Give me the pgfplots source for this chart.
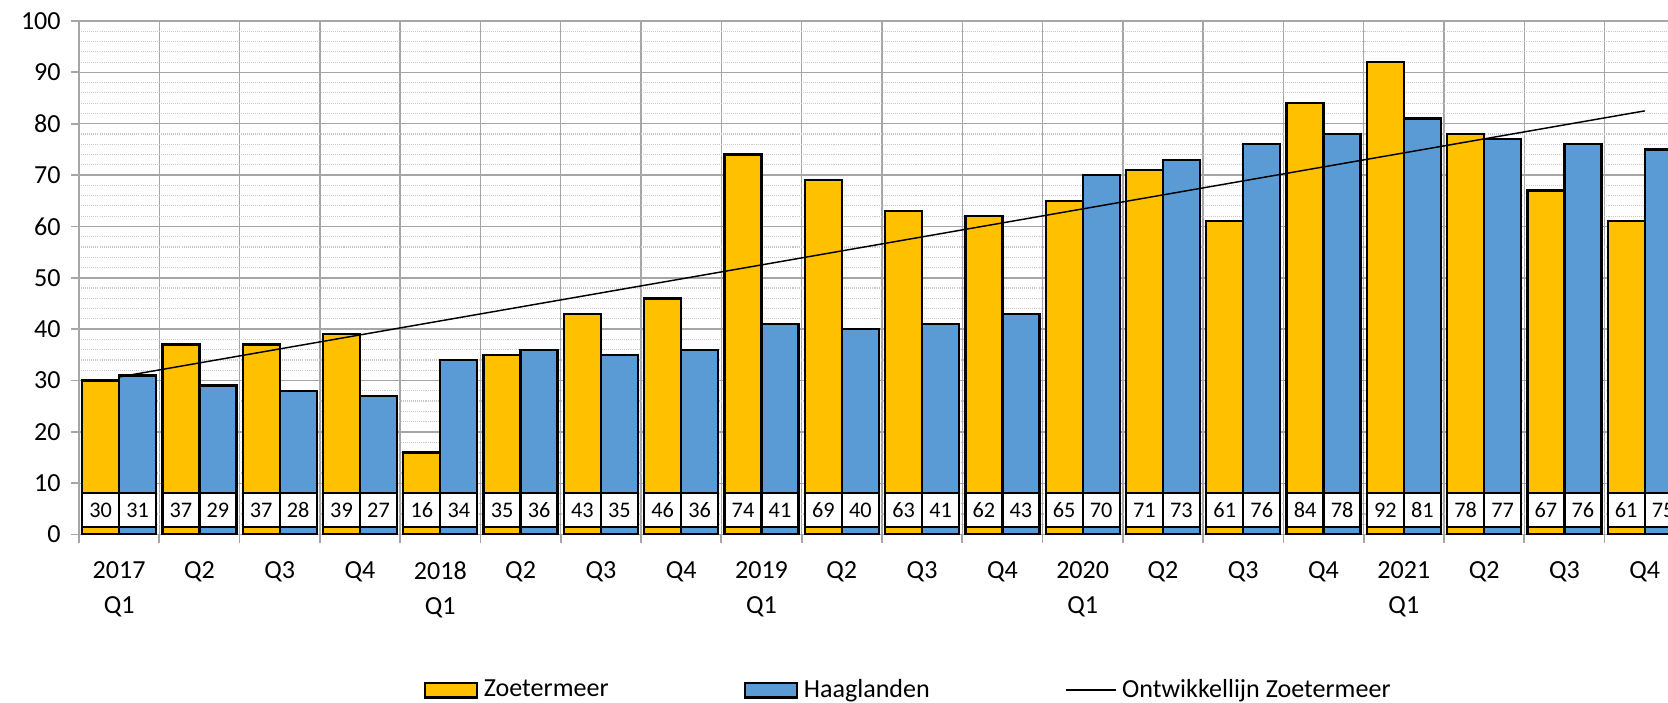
\documentclass[border=0pt]{standalone}
\usepackage{pgfplots}
\usepackage{pgfplotstable}
\pgfplotsset{compat=1.18}
\usepackage{fontspec}
\setmainfont{Carlito}
\definecolor{zgold}{HTML}{FFC000}
\definecolor{hblue}{HTML}{5B9BD5}
\definecolor{gridgray}{HTML}{A6A6A6}
\definecolor{minorgray}{HTML}{C8C8C8}

% kwartaal, Zoetermeer, Haaglanden
\pgfplotstableread{
x z h
0 30 31
1 37 29
2 37 28
3 39 27
4 16 34
5 35 36
6 43 35
7 46 36
8 74 41
9 69 40
10 63 41
11 62 43
12 65 70
13 71 73
14 61 76
15 84 78
16 92 81
17 78 77
18 67 76
19 61 75
}\datatable

\tikzset{valbox/.style={draw=black, fill=white, line width=0.8pt, inner sep=0pt,
    minimum width=4.44mm, minimum height=4.07mm, anchor=center,
    font=\fontsize{7.6}{9}\selectfont}}

\begin{document}
\begin{tikzpicture}
\begin{axis}[
    name=ax, at={(0,0)}, anchor=south west,
    scale only axis, width=190.68mm, height=61.63mm,
    xmin=-0.5, xmax=19.29, ymin=0, ymax=100,
    axis x line*=bottom, axis y line*=left,
    axis line style={gridgray, line width=0.6pt},
    tick align=outside, major tick length=0.96mm,
    tick style={gridgray, line width=0.6pt},
    ytick={0,10,...,100},
    minor y tick num=4, minor tick length=0pt,
    ymajorgrids, yminorgrids, xmajorgrids,
    major grid style={gridgray, line width=0.5pt},
    minor grid style={minorgray, line width=0.4pt, dash pattern=on 0.35pt off 0.35pt},
    xtick={-0.5,0.5,...,19.5}, xticklabels={},
    extra x ticks={0,...,19},
    extra x tick labels={{2017\\Q1},Q2,Q3,Q4,{2018\\Q1},Q2,Q3,Q4,{2019\\Q1},Q2,Q3,Q4,
        {2020\\Q1},Q2,Q3,Q4,{2021\\Q1},Q2,Q3,Q4},
    extra x tick style={xmajorgrids=false, major tick length=0pt},
    /pgf/number format/assume math mode=true,
    tick label style={font=\fontsize{8.9}{11.9}\selectfont, black},
    xticklabel style={align=center, yshift=-2mm},
    legend style={at={(0.2165,-0.303)}, anchor=west, legend columns=3, draw=none,
        fill=none, inner sep=0pt, font=\fontsize{8.9}{11}\selectfont,
        /tikz/every even column/.append style={column sep=15.5mm}},
    legend cell align=left,
]
\addplot[ybar, bar width=4.44mm, bar shift=-2.22mm, fill=zgold, draw=black, line width=0.8pt,
    legend image code/.code={\draw[fill=zgold, draw=black, line width=0.8pt] (0mm,-0.88mm) rectangle (6.24mm,0.88mm);}]
    table[x=x, y=z]{\datatable};
\addlegendentry{Zoetermeer}
\addplot[ybar, bar width=4.44mm, bar shift=2.22mm, fill=hblue, draw=black, line width=0.8pt,
    legend image code/.code={\draw[fill=hblue, draw=black, line width=0.8pt] (0mm,-0.88mm) rectangle (6.24mm,0.88mm);}]
    table[x=x, y=h]{\datatable};
\addlegendentry{Haaglanden}
\addplot[black, line width=0.5pt, mark=none,
    legend image code/.code={\draw[black, line width=0.5pt] (0mm,0mm) -- (6mm,0mm);}]
    coordinates {(0,30.7) (19,82.5)};
\addlegendentry{Ontwikkellijn Zoetermeer}
% waardelabels onderin, halve staafbreedte links en rechts van het midden
\addplot[draw=none, mark=none, forget plot,
    nodes near coords, point meta=explicit,
    every node near coord/.append style={valbox}]
    table[x expr=\thisrow{x}-0.2304, y expr=4.8, meta=z]{\datatable};
\addplot[draw=none, mark=none, forget plot,
    nodes near coords, point meta=explicit,
    every node near coord/.append style={valbox}]
    table[x expr=\thisrow{x}+0.2304, y expr=4.8, meta=h]{\datatable};
\end{axis}
\pgfresetboundingbox
\path[use as bounding box] (-9.48mm,-20.12mm) rectangle (190.68mm,64.15mm);
\end{tikzpicture}
\end{document}
